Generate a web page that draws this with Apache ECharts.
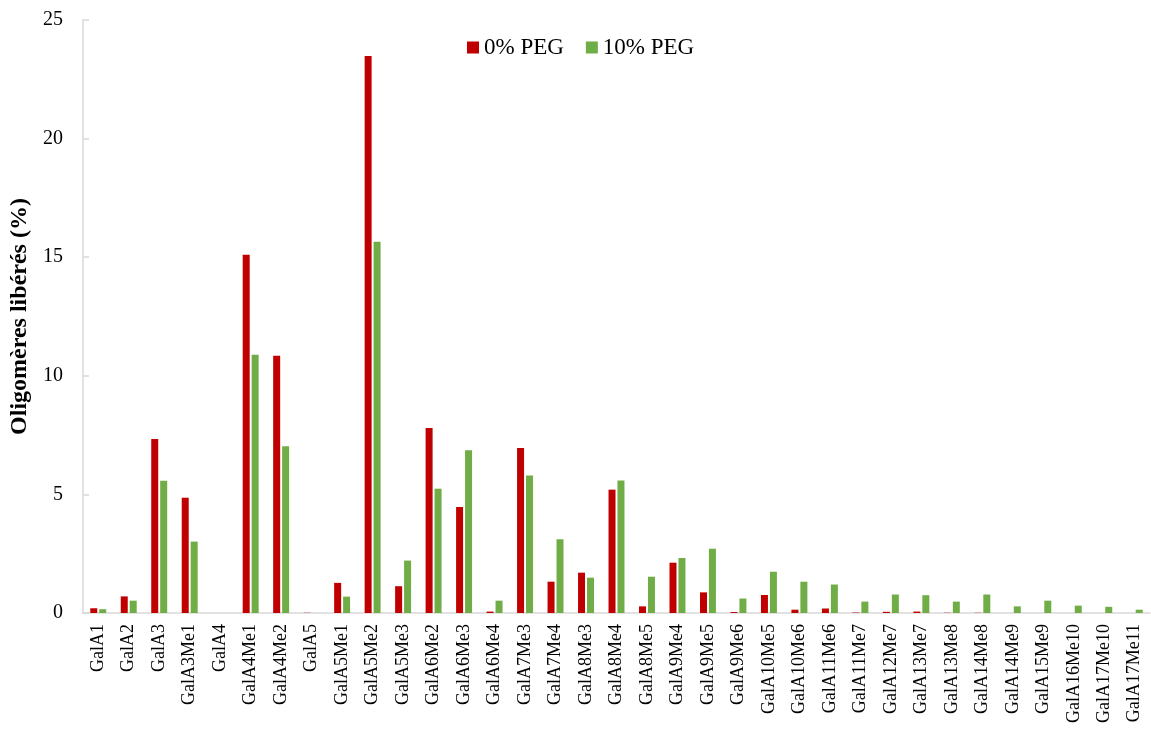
<!DOCTYPE html>
<html>
<head>
<meta charset="utf-8">
<script src="https://cdn.jsdelivr.net/npm/echarts@6/dist/echarts.min.js"></script>
<style>
  html, body { margin: 0; padding: 0; background: #ffffff; }
  #chart { width: 1151px; height: 745px; }
</style>
</head>
<body>
<div id="chart"></div>
<script>
// Oligomers released (%) per galacturonide, with and without PEG
const categories = [
  'GalA1', 'GalA2', 'GalA3', 'GalA3Me1', 'GalA4', 'GalA4Me1', 'GalA4Me2', 'GalA5',
  'GalA5Me1', 'GalA5Me2', 'GalA5Me3', 'GalA6Me2', 'GalA6Me3', 'GalA6Me4', 'GalA7Me3',
  'GalA7Me4', 'GalA8Me3', 'GalA8Me4', 'GalA8Me5', 'GalA9Me4', 'GalA9Me5', 'GalA9Me6',
  'GalA10Me5', 'GalA10Me6', 'GalA11Me6', 'GalA11Me7', 'GalA12Me7', 'GalA13Me7',
  'GalA13Me8', 'GalA14Me8', 'GalA14Me9', 'GalA15Me9', 'GalA16Me10', 'GalA17Me10', 'GalA17Me11'
];

const peg0 = [
  0.20, 0.70, 7.34, 4.86, 0.00, 15.10, 10.85, 0.01,
  1.27, 23.48, 1.13, 7.80, 4.47, 0.06, 6.96,
  1.32, 1.70, 5.20, 0.28, 2.12, 0.87, 0.04,
  0.76, 0.14, 0.19, 0.02, 0.05, 0.06,
  0.01, 0.01, 0.00, 0.00, 0.00, 0.00, 0.00
];

const peg10 = [
  0.16, 0.52, 5.58, 3.01, 0.00, 10.89, 7.03, 0.00,
  0.69, 15.65, 2.21, 5.24, 6.86, 0.52, 5.80,
  3.11, 1.49, 5.59, 1.53, 2.32, 2.71, 0.61,
  1.74, 1.32, 1.20, 0.48, 0.78, 0.75,
  0.48, 0.78, 0.28, 0.52, 0.31, 0.26, 0.14
];

const seriesNames = ['0% PEG', '10% PEG'];
const yTicks = { min: 0, max: 25, interval: 5 };

const serif = '"Liberation Serif", "Times New Roman", serif';
const axisGrey = '#d9d9d9';

const chart = echarts.init(document.getElementById('chart'), null, { renderer: 'canvas' });

chart.setOption({
  backgroundColor: '#ffffff',
  animation: false,
  textStyle: { fontFamily: serif, color: '#000000' },
  legend: {
    data: seriesNames,
    left: 462,
    top: 31,
    icon: 'rect',
    itemWidth: 12,
    itemHeight: 12,
    itemGap: 22,
    textStyle: { fontFamily: serif, fontSize: 23, color: '#000000', padding: [2, 0, 0, 0] }
  },
  grid: { left: 83, right: 1, top: 20, bottom: 132, containLabel: false, outerBoundsMode: 'none' },
  xAxis: {
    type: 'category',
    data: categories,
    boundaryGap: true,
    axisLine: { show: true, lineStyle: { color: axisGrey, width: 1.5 } },
    axisTick: { show: false },
    axisLabel: {
      interval: 0,
      rotate: 90,
      margin: 11,
      fontFamily: serif,
      fontSize: 18,
      color: '#000000'
    },
    splitLine: { show: false }
  },
  yAxis: {
    type: 'value',
    min: yTicks.min,
    max: yTicks.max,
    interval: yTicks.interval,
    name: 'Oligomères libérés (%)',
    nameLocation: 'middle',
    nameGap: 48,
    nameRotate: 90,
    nameTextStyle: { fontFamily: serif, fontSize: 24, fontWeight: 'bold', color: '#000000' },
    axisLine: { show: true, lineStyle: { color: axisGrey, width: 1.5 } },
    axisTick: { show: true, inside: true, length: 6, lineStyle: { color: axisGrey, width: 1.5 } },
    axisLabel: { margin: 20, fontFamily: serif, fontSize: 20, color: '#000000' },
    splitLine: { show: false }
  },
  series: [
    {
      name: seriesNames[0],
      type: 'bar',
      data: peg0,
      barWidth: 7,
      barGap: '28%',
      itemStyle: { color: '#C00000' }
    },
    {
      name: seriesNames[1],
      type: 'bar',
      data: peg10,
      barWidth: 7,
      itemStyle: { color: '#70AD47' }
    }
  ]
});
</script>
</body>
</html>
